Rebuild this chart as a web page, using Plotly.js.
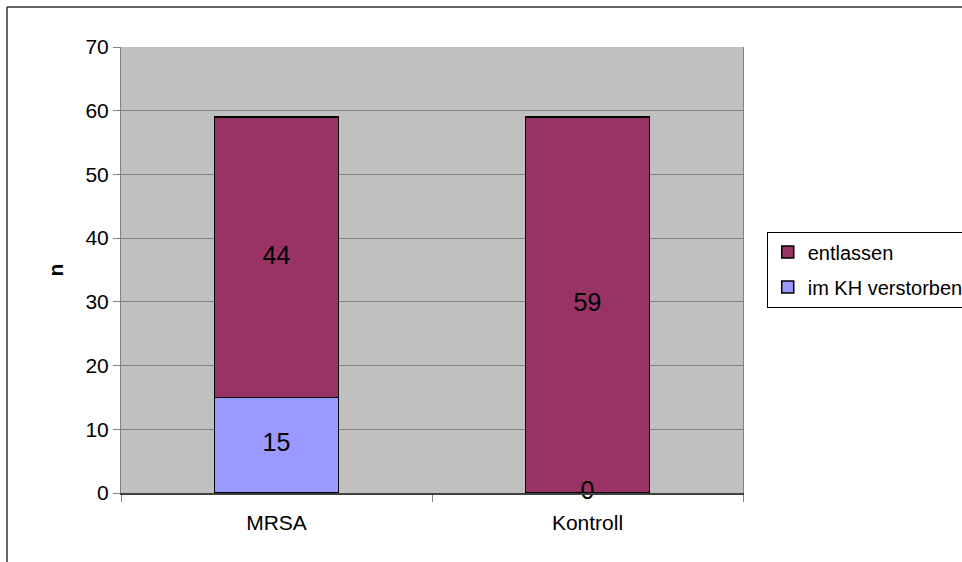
<!DOCTYPE html>
<html>
<head>
<meta charset="utf-8">
<script src="https://cdn.plot.ly/plotly-3.0.1.min.js"></script>
<style>
html,body{margin:0;padding:0;background:#fff;}
#chart{width:962px;height:562px;}
</style>
</head>
<body>
<div id="chart"></div>
<script>
const categories = ["MRSA", "Kontroll"];
const verstorben = [15, 0];
const entlassen = [44, 59];
const seriesNames = ["im KH verstorben", "entlassen"];
const yTicks = [0, 10, 20, 30, 40, 50, 60, 70];

const font = "Liberation Sans, Arial, sans-serif";

const barLine = {color: "#000000", width: 1.5};

const traceVerst = {
  type: "bar", name: seriesNames[0], x: categories, y: verstorben,
  marker: {color: "#9999FF", line: barLine},
  legendgroup: "b", legendrank: 2, hoverinfo: "skip"
};
const traceEntl = {
  type: "bar", name: seriesNames[1], x: categories, y: entlassen,
  marker: {color: "#993366", line: barLine},
  legendgroup: "a", legendrank: 1, hoverinfo: "skip"
};

// label positions: mid of each segment
const labX = [], labY = [], labT = [];
categories.forEach((c, i) => {
  labX.push(c); labY.push(verstorben[i] / 2); labT.push(String(verstorben[i]));
  labX.push(c); labY.push(verstorben[i] + entlassen[i] / 2); labT.push(String(entlassen[i]));
});
const labels = {
  type: "scatter", mode: "text", x: labX, y: labY, text: labT,
  textposition: "middle center", textfont: {family: font, size: 25, color: "#000"},
  showlegend: false, hoverinfo: "skip", cliponaxis: false
};

const layout = {
  width: 962, height: 562,
  margin: {l: 121, r: 219, t: 47, b: 69},
  paper_bgcolor: "#ffffff",
  plot_bgcolor: "#C0C0C0",
  barmode: "stack",
  bargap: 0.6,
  font: {family: font, size: 21, color: "#000"},
  showlegend: true,
  legend: {
    xref: "container", yref: "container",
    x: 0.797, y: 0.588, xanchor: "left", yanchor: "top",
    bordercolor: "#000000", borderwidth: 1, bgcolor: "#ffffff",
    traceorder: "grouped", tracegroupgap: 6,
    font: {family: font, size: 20, color: "#000"}
  },
  xaxis: {
    type: "category", showgrid: false, tickson: "boundaries",
    ticks: "outside", ticklen: 7, tickcolor: "#808080", tickwidth: 1,
    showline: true, linecolor: "#404040", linewidth: 2,
    tickfont: {family: font, size: 21}, zeroline: false,
    ticklabelstandoff: 10
  },
  yaxis: {
    range: [0, 70], tickvals: yTicks, ticktext: yTicks.map(String),
    showgrid: true, gridcolor: "#808080", gridwidth: 1,
    ticks: "outside", ticklen: 7, tickcolor: "#808080",
    showline: true, linecolor: "#808080", linewidth: 1, mirror: true,
    zeroline: false,
    tickfont: {family: font, size: 21},
    title: {text: "<b>n</b>", font: {family: font, size: 21}, standoff: 16}
  },
  shapes: [
    {type: "line", xref: "paper", yref: "paper", x0: -0.1833, x1: 2, y0: 1.0897, y1: 1.0897,
     line: {color: "#333333", width: 1.5}},
    {type: "line", xref: "paper", yref: "paper", x0: -0.1833, x1: -0.1833, y0: -1, y1: 1.0897,
     line: {color: "#333333", width: 1.5}}
  ]
};

Plotly.newPlot("chart", [traceVerst, traceEntl, labels], layout, {staticPlot: true, displayModeBar: false});
</script>
</body>
</html>
